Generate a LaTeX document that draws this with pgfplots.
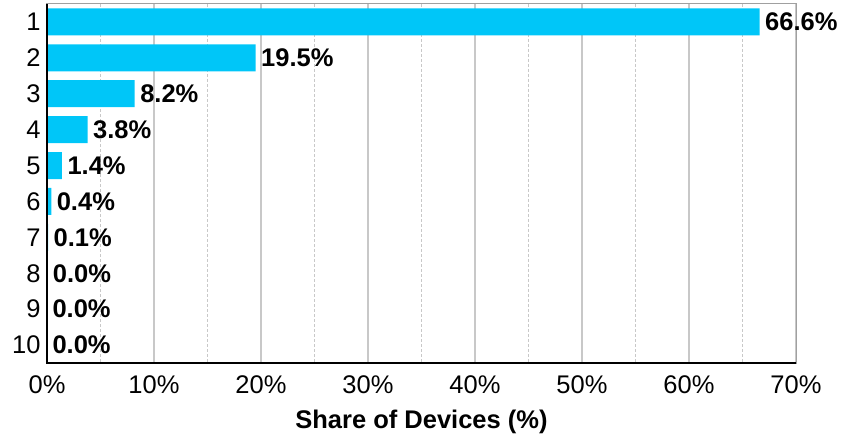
\documentclass[border=0pt]{standalone}
\usepackage{pgfplots}
\pgfplotsset{compat=1.18}
\usepackage{fontspec}
\setmainfont{Liberation Sans}
\definecolor{barcol}{RGB}{0,198,248}
\definecolor{gridcol}{RGB}{200,200,200}
\begin{document}
\begin{tikzpicture}
\begin{axis}[
  scale only axis,
  width=749pt, height=359pt,
  xbar, bar width=27pt,
  xmin=0, xmax=70,
  ymin=0.5, ymax=10.5,
  y dir=reverse,
  ytick={1,2,3,4,5,6,7,8,9,10},
  xtick={0,10,20,30,40,50,60,70},
  minor x tick num=1,
  xmajorgrids, xminorgrids,
  major grid style={gridcol, line width=1.2pt},
  minor grid style={gridcol, line width=1.2pt, dash pattern=on 3pt off 2pt},
  major tick length=0pt, minor tick length=0pt,
  axis line style={gridcol!80!black, line width=1pt},
  /pgf/number format/assume math mode=true,
  tick label style={font=\fontsize{25.5}{30}\selectfont},
  xticklabel={\pgfmathprintnumber{\tick}\%},
  xticklabel style={yshift=-9pt},
  yticklabel style={xshift=-3pt},
  xlabel={\textbf{Share of Devices (\%)}},
  xlabel style={font=\fontsize{25.5}{30}\selectfont, yshift=-10pt},
  point meta=x,
  nodes near coords={\pgfmathprintnumber[fixed,fixed zerofill,precision=1]{\pgfplotspointmeta}\%},
  nodes near coords style={font=\fontsize{25.5}{30}\selectfont\bfseries, anchor=west, xshift=2pt},
  clip=false,
]
\addplot[fill=barcol, draw=none] coordinates {
 (66.6,1) (19.5,2) (8.2,3) (3.8,4) (1.4,5) (0.4,6) (0.1,7) (0.04,8) (0.0,9) (0.0,10)
};
\draw[black, line width=1.5pt] (rel axis cs:0,1) -- (rel axis cs:0,0) -- (rel axis cs:1,0);
\pgfresetboundingbox
\path ([shift={(-47pt,-75pt)}]rel axis cs:0,0) rectangle ([shift={(59pt,4pt)}]rel axis cs:1,1);
\end{axis}
\end{tikzpicture}
\end{document}
